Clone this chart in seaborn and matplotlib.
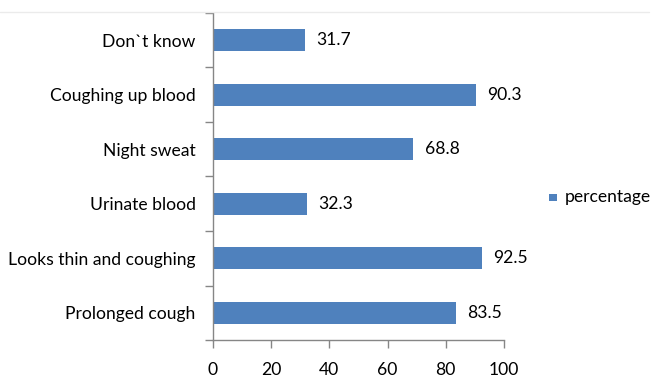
import matplotlib
matplotlib.use("Agg")
import matplotlib.pyplot as plt
import matplotlib.lines as mlines
import matplotlib.patches as mpatches
import seaborn as sns
import pandas as pd
import numpy as np

categories = ["Don`t know", "Coughing up blood", "Night sweat",
              "Urinate blood", "Looks thin and coughing", "Prolonged cough"]
percentage = [31.7, 90.3, 68.8, 32.3, 92.5, 83.5]
x_ticks = [0, 20, 40, 60, 80, 100]
series_name = "percentage"

sns.set_theme(style="white")
plt.rcParams["font.family"] = ["Lato", "DejaVu Sans"]

df = pd.DataFrame({"category": categories, "value": percentage})

W, H = 653, 378
fig = plt.figure(figsize=(W / 100, H / 100), dpi=100)
ax = fig.add_axes([213 / W, 1 - 340 / H, (504 - 213) / W, (340 - 13) / H])

bar_color = "#4F81BD"
sns.barplot(data=df, x="value", y="category", orient="h", color=bar_color,
            width=0.4, saturation=1, ax=ax, edgecolor="none")

ax.set_xlim(0, 100)
ax.set_ylim(len(categories) - 0.5, -0.5)
ax.set_xlabel("")
ax.set_ylabel("")

spine_color = "#868686"
for side in ["top", "right"]:
    ax.spines[side].set_visible(False)
for side in ["left", "bottom"]:
    ax.spines[side].set_color(spine_color)
    ax.spines[side].set_linewidth(1.0)

fs = 12.6
ax.set_xticks(x_ticks)
ax.set_xticklabels([str(t) for t in x_ticks], fontsize=fs, color="#000000")
ax.tick_params(axis="x", direction="out", length=6, width=1, color=spine_color,
               pad=9.5, bottom=True)

ax.set_yticks(range(len(categories)))
ax.set_yticklabels(categories, fontsize=fs, color="#000000")
ax.tick_params(axis="y", which="major", length=0, pad=12.5)
ax.set_yticks(np.arange(-0.5, len(categories), 1.0), minor=True)
ax.tick_params(axis="y", which="minor", direction="out", length=6, width=1,
               color=spine_color, left=True)

# value labels to the right of each bar
for i, v in enumerate(percentage):
    ax.text(v + 3.9, i, f"{v}", va="center", ha="left", fontsize=fs, color="#000000")

# faint border line across the top of the chart area
fig.add_artist(mlines.Line2D([0, 649 / W], [1 - 12 / H, 1 - 12 / H],
                             color="#ebebeb", linewidth=1.0))

# legend entry outside the plot area
fig.add_artist(mpatches.Rectangle((549 / W, 1 - 201 / H), 7.5 / W, 7.5 / H,
                                  facecolor=bar_color, edgecolor="none"))
fig.text(565 / W, 1 - 197 / H, series_name, fontsize=fs, va="center", ha="left",
         color="#000000")

fig.savefig("out.png", dpi=100)
